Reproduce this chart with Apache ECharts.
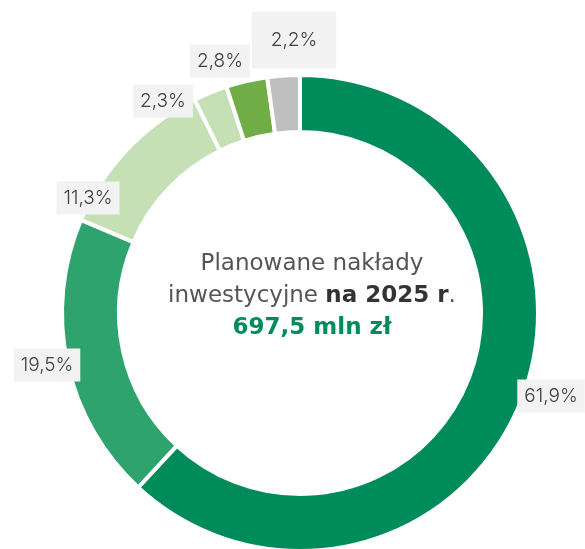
<!DOCTYPE html>
<html>
<head>
<meta charset="utf-8">
<script src="https://cdn.jsdelivr.net/npm/echarts@6/dist/echarts.min.js"></script>
<style>
html,body{margin:0;padding:0;background:#fff;}
#wykres{width:585px;height:549px;}
</style>
</head>
<body>
<div id="wykres"></div>
<script>
var udzialy = [61.9, 19.5, 11.3, 2.3, 2.8, 2.2];
var etykiety = ['61,9%', '19,5%', '11,3%', '2,3%', '2,8%', '2,2%'];
var kolory = ['#008c5a', '#2ea36e', '#c5e0b4', '#c5e0b4', '#70ad47', '#bfbfbf'];
// srodki szarych ramek z etykietami
var pozycjeEtykiet = [[551, 396], [47, 365], [88, 198], [163, 101], [220, 61], [294, 40]];

var dom = document.getElementById('wykres');
var myChart = echarts.init(dom);

var dane = udzialy.map(function (v, i) {
    return { value: v, name: etykiety[i], itemStyle: { color: kolory[i] } };
});
dane[5].label = { padding: [19, 19] };

var option = {
    animation: false,
    title: {
        left: 307,
        top: 243,
        textAlign: 'center',
        text: '{a|Planowane nakłady}\n{a|inwestycyjne }{b|na 2025 r}{a|.}\n{c|697,5 mln zł}',
        textStyle: {
            rich: {
                a: { fontFamily: 'DejaVu Sans', fontSize: 23, color: '#555', fontWeight: 'normal', lineHeight: 32 },
                b: { fontFamily: 'DejaVu Sans', fontSize: 23, color: '#333', fontWeight: 'bold', lineHeight: 32 },
                c: { fontFamily: 'DejaVu Sans', fontSize: 23, color: '#008c5a', fontWeight: 'bold', lineHeight: 32 }
            }
        }
    },
    series: [{
        type: 'pie',
        center: [300, 313],
        radius: [181, 238],
        startAngle: 90,
        clockwise: true,
        avoidLabelOverlap: false,
        itemStyle: { borderColor: '#fff', borderWidth: 4 },
        label: {
            show: true,
            position: 'outside',
            formatter: '{b}',
            fontFamily: 'Inter',
            fontSize: 19,
            fontWeight: 300,
            color: '#404040',
            backgroundColor: '#f2f2f2',
            padding: [7, 7]
        },
        labelLine: { show: false, length: 4, length2: 0 },
        labelLayout: function (params) {
            var p = pozycjeEtykiet[params.dataIndex];
            return { x: p[0], y: p[1], align: 'center', verticalAlign: 'middle' };
        },
        emphasis: { disabled: true },
        data: dane
    }]
};
myChart.setOption(option, true);
</script>
</body>
</html>
